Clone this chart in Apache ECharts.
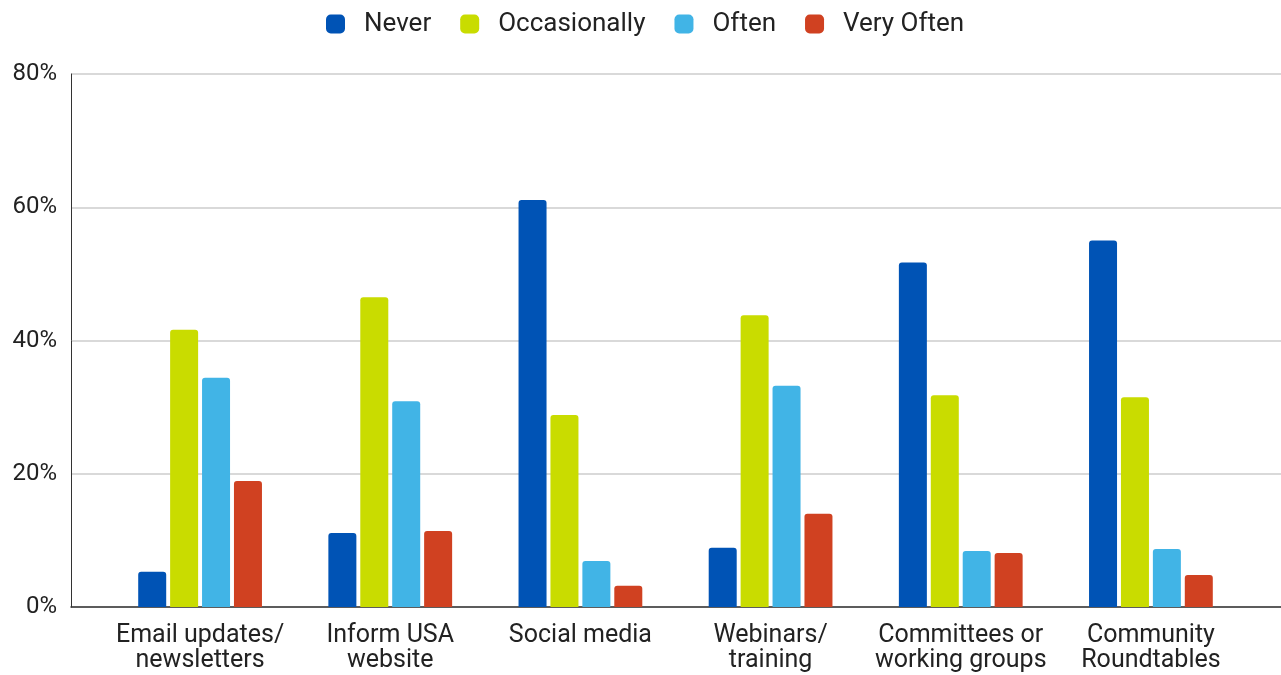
<!DOCTYPE html>
<html>
<head>
<meta charset="utf-8">
<script src="https://cdn.jsdelivr.net/npm/echarts@6/dist/echarts.min.js"></script>
<style>
  html, body { margin: 0; padding: 0; background: #fff; }
  #chart { width: 1281px; height: 675px; }
</style>
</head>
<body>
<div id="chart"></div>
<script>
const categories = [
  "Email updates/\nnewsletters",
  "Inform USA\nwebsite",
  "Social media",
  "Webinars/\ntraining",
  "Committees or\nworking groups",
  "Community\nRoundtables"
];
const never = [5.3, 11.1, 61.1, 8.9, 51.7, 55.0];
const occasionally = [41.6, 46.5, 28.8, 43.8, 31.8, 31.5];
const often = [34.4, 30.9, 6.9, 33.2, 8.4, 8.7];
const veryOften = [18.9, 11.4, 3.2, 14.0, 8.1, 4.8];
const yTicks = [0, 20, 40, 60, 80];

const font = "Roboto, 'Noto Sans', sans-serif";
const chart = echarts.init(document.getElementById("chart"));

const mkSeries = (name, data, color) => ({
  name: name,
  type: "bar",
  xAxisIndex: 1,
  yAxisIndex: 1,
  data: data,
  barWidth: 28,
  barGap: "14%",
  itemStyle: { color: color, borderRadius: [3, 3, 0, 0] }
});

chart.setOption({
  animation: false,
  textStyle: { fontFamily: font },
  legend: {
    top: 6,
    left: 321,
    itemWidth: 19,
    itemHeight: 19,
    itemGap: 29,
    icon: "roundRect",
    textStyle: { fontSize: 26, color: "#222", fontFamily: font, padding: [0, 0, 0, 14] },
    data: ["Never", "Occasionally", "Often", "Very Often"]
  },
  grid: [
    // frame grid: axis lines, gridlines and y labels
    { left: 71, right: 0, top: 74, bottom: 68 },
    // bar grid: inset like the original
    { left: 105, right: 35, top: 74, bottom: 68 }
  ],
  xAxis: [
    {
      gridIndex: 0,
      type: "value",
      min: 0,
      max: 1,
      axisLine: { show: true, lineStyle: { color: "#333", width: 1.5 } },
      axisTick: { show: false },
      axisLabel: { show: false },
      splitLine: { show: false }
    },
    {
      gridIndex: 1,
      type: "category",
      data: categories,
      axisLine: { show: false },
      axisTick: { show: false },
      axisLabel: {
        fontSize: 25,
        color: "#222",
        lineHeight: 25,
        margin: 16,
        interval: 0,
        fontFamily: font
      }
    }
  ],
  yAxis: [
    {
      gridIndex: 0,
      type: "value",
      min: yTicks[0],
      max: yTicks[yTicks.length - 1],
      interval: 20,
      axisLine: { show: true, lineStyle: { color: "#333", width: 1 } },
      axisTick: { show: false },
      axisLabel: {
        formatter: "{value}%",
        fontSize: 24,
        color: "#222",
        margin: 14,
        fontFamily: font
      },
      splitLine: { show: true, lineStyle: { color: "#ccc", width: 1.5 } }
    },
    {
      gridIndex: 1,
      type: "value",
      min: 0,
      max: 80,
      interval: 20,
      show: false,
      splitLine: { show: false }
    }
  ],
  series: [
    mkSeries("Never", never, "#0053b5"),
    mkSeries("Occasionally", occasionally, "#c9dc00"),
    mkSeries("Often", often, "#41b4e6"),
    mkSeries("Very Often", veryOften, "#d04121")
  ]
});
</script>
</body>
</html>
